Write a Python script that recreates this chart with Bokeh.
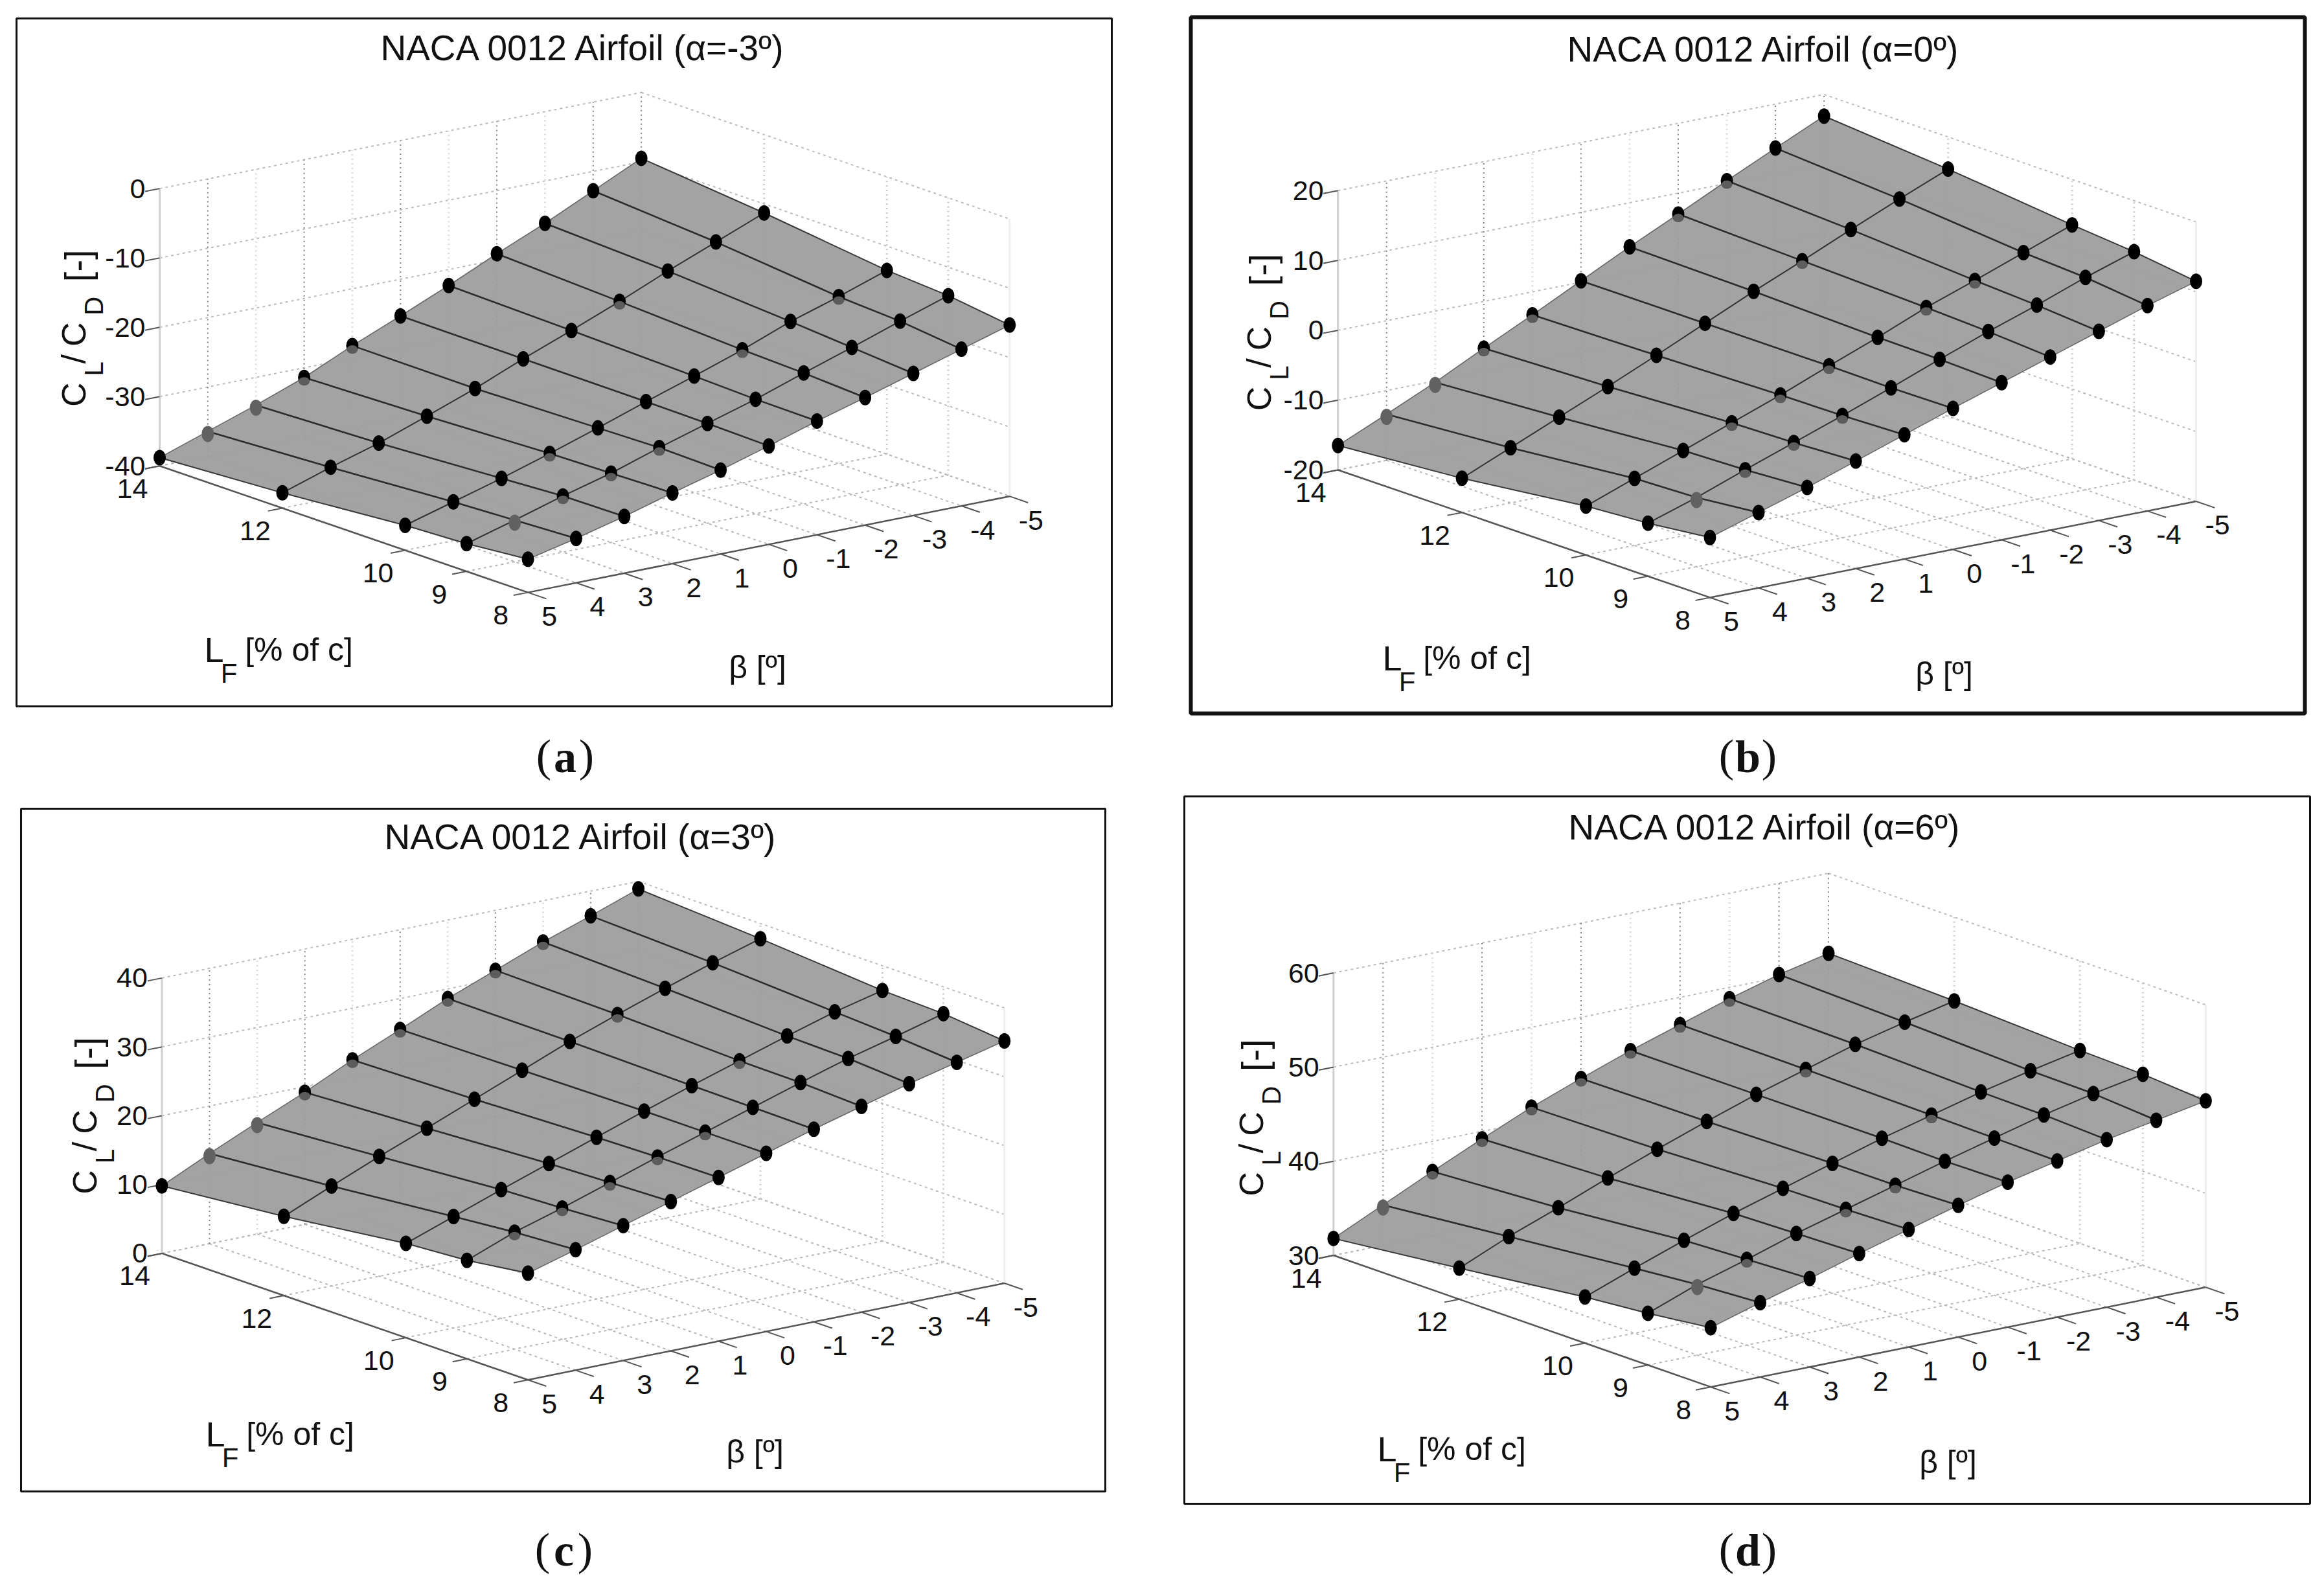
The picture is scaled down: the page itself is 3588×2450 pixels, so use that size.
from bokeh.plotting import figure
from bokeh.layouts import row, column
from bokeh.models import Range1d
from bokeh.core.properties import value
from bokeh.embed import file_html
from bokeh.resources import INLINE

LF_VALUES = [14, 12, 10, 9, 8]
BETA_VALUES = [5, 4, 3, 2, 1, 0, -1, -2, -3, -4, -5]

CLCD_A = [
    [-38.8,-36.4,-34.0,-31.4,-28.2,-25.3,-22.3,-19.1,-16.1,-12.8,-9.5],
    [-37.8,-35.5,-33.4,-30.9,-28.3,-25.4,-22.7,-19.9,-16.9,-14.1,-11.3],
    [-36.4,-34.4,-32.4,-30.2,-27.9,-25.5,-23.2,-20.8,-18.1,-15.9,-13.5],
    [-36.0,-34.0,-31.9,-30.0,-27.7,-25.6,-23.5,-21.1,-18.8,-16.4,-14.1],
    [-35.2,-33.6,-31.8,-29.8,-27.9,-25.8,-23.6,-21.6,-19.5,-17.4,-15.3],
]
CLCD_B = [
    [-16.5,-13.4,-10.2,-6.7,-3.3,0.2,3.7,7.0,10.4,13.7,16.9],
    [-15.1,-12.1,-9.1,-6.1,-3.0,0.2,3.4,6.4,9.5,12.5,15.4],
    [-13.0,-10.4,-7.8,-5.2,-2.6,0.2,2.9,5.8,8.3,10.9,13.5],
    [-12.4,-10.1,-7.5,-5.0,-2.5,0.1,2.8,5.4,7.8,10.4,12.7],
    [-11.4,-9.2,-7.0,-4.6,-2.2,0.2,2.5,4.8,7.1,9.4,11.5],
]
CLCD_C = [
    [9.8,13.1,16.2,19.2,22.5,25.5,28.6,31.3,34.0,36.4,38.9],
    [11.5,14.5,17.4,20.1,22.9,25.7,28.5,31.0,33.4,35.7,37.8],
    [13.7,16.2,18.7,21.1,23.5,25.9,28.2,30.4,32.6,34.7,36.4],
    [14.3,17.0,19.1,21.4,23.7,25.9,28.1,30.3,32.4,34.2,36.1],
    [15.5,17.5,19.6,21.7,23.8,25.9,28.0,29.9,31.8,33.5,35.2],
]
CLCD_D = [
    [31.8,34.3,36.8,39.2,41.5,43.5,45.4,47.1,48.8,50.3,51.5],
    [33.3,35.6,37.6,39.7,41.7,43.6,45.4,47.0,48.6,49.9,51.1],
    [34.9,36.9,38.8,40.6,42.2,43.8,45.4,46.8,48.2,49.4,50.5],
    [35.5,37.5,39.1,40.8,42.3,43.8,45.3,46.7,48.1,49.3,50.3],
    [36.3,37.9,39.4,41.0,42.5,44.0,45.4,46.6,47.8,48.8,49.8],
]
ZTICKS_A = [-40, -30, -20, -10, 0]
ZTICKS_B = [-20, -10, 0, 10, 20]
ZTICKS_C = [0, 10, 20, 30, 40]
ZTICKS_D = [30, 40, 50, 60]
TITLES = ["NACA 0012 Airfoil (\u03b1=-3\u00ba)", "NACA 0012 Airfoil (\u03b1=0\u00ba)",
          "NACA 0012 Airfoil (\u03b1=3\u00ba)", "NACA 0012 Airfoil (\u03b1=6\u00ba)"]
CAPTIONS = ["a", "b", "c", "d"]

SX, SY = 1.1441, 0.7813
SANS = "Liberation Sans"
SERIF = "Liberation Serif"

PANELS = [
    dict(data=CLCD_A, zt=ZTICKS_A, title=TITLES[0], cap="a", off=(0, 0), cell=(0, 1794, 0, 1225),
         frame=(25, 1716, 28, 1090), fw=3, L=(215, 920), F=(712, 1170), R=(1362, 980), k=13.7,
         tpos=(901, 73), ylx=-132, lf=(330, 1002), bl=(1169, 1029), cappos=(872, 1168),
         half={0: [3, 4], 1: [7], 2: [3, 7, 9], 3: [2, 3, 4]}, full={0: [1, 2], 3: [1]}),
    dict(data=CLCD_B, zt=ZTICKS_B, title=TITLES[1], cap="b", off=(1794, 0), cell=(1794, 3580, 0, 1225),
         frame=(1838, 3558, 26, 1101), fw=6, L=(237, 928), F=(739, 1180), R=(1395, 990), k=13.8,
         tpos=(2724, 75), ylx=-122, lf=(2149, 1015), bl=(3001, 1039), cappos=(2698, 1168),
         half={0: [3, 4, 7, 8], 1: [7], 2: [3, 4, 5, 7, 8], 3: [2, 3, 4]}, full={0: [1, 2], 3: [1]}),
    dict(data=CLCD_C, zt=ZTICKS_C, title=TITLES[2], cap="c", off=(0, 1225), cell=(0, 1794, 1225, 2442),
         frame=(32, 1706, 1248, 2302), fw=3, L=(218, 908), F=(712, 1158), R=(1355, 967), k=13.6,
         tpos=(898, 1291), ylx=-119, lf=(332, 2213), bl=(1165, 2240), cappos=(870, 2393),
         half={0: [3, 4, 5, 6, 7, 8], 1: [7], 2: [7], 3: [1, 2, 3, 4, 5]}, full={0: [1, 2]}),
    dict(data=CLCD_D, zt=ZTICKS_D, title=TITLES[3], cap="d", off=(1794, 1225), cell=(1794, 3580, 1225, 2442),
         frame=(1828, 3566, 1229, 2321), fw=3, L=(231, 912), F=(740, 1172), R=(1408, 975), k=18.6,
         tpos=(2726, 1276), ylx=-127, lf=(2141, 2236), bl=(3007, 2256), cappos=(2698, 2393),
         half={0: [2, 3, 4, 5, 6, 7, 8], 1: [7], 2: [7], 3: [2, 4, 5]}, full={0: [1], 3: [1]}),
]


def make_panel(pn):
    ox, oy = pn["off"]
    xf = ox + pn["F"][0] * SX; yf = oy + pn["F"][1] * SY
    xl = ox + pn["L"][0] * SX; yl = oy + pn["L"][1] * SY
    xr = ox + pn["R"][0] * SX; yr = oy + pn["R"][1] * SY
    k = pn["k"] * SY
    zt = pn["zt"]; zmin, zmax = zt[0], zt[-1]

    def proj(lf, b, z):
        u, v = (lf - 8) / 6.0, (5 - b) / 10.0
        return xf + (xl - xf) * u + (xr - xf) * v, yf + (yl - yf) * u + (yr - yf) * v - k * (z - zmin)

    def seg(a, b):
        pa, pb = proj(*a), proj(*b)
        return [pa[0], pb[0]], [pa[1], pb[1]]

    x0, x1, y0, y1 = pn["cell"]
    p = figure(width=x1 - x0, height=y1 - y0, x_range=Range1d(x0, x1), y_range=Range1d(y1, y0),
               output_backend="svg", toolbar_location=None, x_axis_location=None, y_axis_location=None,
               min_border=0, outline_line_color=None)
    p.grid.visible = False

    fx0, fx1, fy0, fy1 = pn["frame"]
    p.quad(left=[fx0], right=[fx1], top=[fy0], bottom=[fy1], fill_color="white",
           line_color="#111111", line_width=pn["fw"])

    def lines(segs, color, width, dash="solid", alpha=1.0):
        xs = [s[0] for s in segs]; ys = [s[1] for s in segs]
        p.multi_line(xs, ys, line_color=color, line_width=width, line_dash=dash, line_alpha=alpha)

    # floor grid
    lines([seg((14, b, zmin), (8, b, zmin)) for b in BETA_VALUES[1:]] +
          [seg((l, 5, zmin), (l, -5, zmin)) for l in LF_VALUES[:-1]], "#b8b8b8", 2, "4 5")
    # wall grids
    lines([seg((14, 5, z), (14, -5, z)) for z in zt] + [seg((14, -5, z), (8, -5, z)) for z in zt],
          "#bcbcbc", 2, "4 5")
    lines([seg((14, b, zmin), (14, b, zmax)) for b in BETA_VALUES[1:-1:2]] +
          [seg((14, -5, zmin), (14, -5, zmax))], "#808080", 2, "2 5")
    lines([seg((14, b, zmin), (14, b, zmax)) for b in BETA_VALUES[2:-1:2]], "#dddddd", 3, "2 5")
    lines([seg((l, -5, zmin), (l, -5, zmax)) for l in LF_VALUES[1:-1]], "#cccccc", 3, "2 5")
    # box
    lines([seg((14, 5, zmin), (14, 5, zmax))], "#cfcfcf", 3)
    lines([seg((8, -5, zmin), (8, -5, zmax))], "#eeeeee", 3)
    # axes and ticks
    lines([seg((14, 5, zmin), (8, 5, zmin)), seg((8, 5, zmin), (8, -5, zmin))], "#555555", 2.5)
    lines([seg((l, 5, zmin), (l, 5.3, zmin)) for l in LF_VALUES] +
          [seg((8, b, zmin), (7.7, b, zmin)) for b in BETA_VALUES] +
          [seg((14, 5, z), (14, 5.3, z)) for z in zt], "#555555", 2)

    # surface
    d = pn["data"]
    P = [[proj(l, b, d[i][j]) for j, b in enumerate(BETA_VALUES)] for i, l in enumerate(LF_VALUES)]
    qx, qy = [], []
    for i in range(len(LF_VALUES) - 1):
        for j in range(len(BETA_VALUES) - 1):
            c = [P[i][j], P[i][j + 1], P[i + 1][j + 1], P[i + 1][j]]
            qx.append([t[0] for t in c]); qy.append([t[1] for t in c])
    p.patches(qx, qy, fill_color="#9e9e9e", fill_alpha=0.95, line_color="#9e9e9e", line_width=1, line_alpha=0.6)

    # mesh lines
    lines([[[P[i][j][0] for i in range(5)], [P[i][j][1] for i in range(5)]] for j in range(1, 10)],
          "#2c2c2c", 2.6)
    lines([[[t[0] for t in P[i]], [t[1] for t in P[i]]] for i in (1, 2, 3)], "#333333", 2)
    lines([[[P[i][0][0] for i in range(5)], [P[i][0][1] for i in range(5)]],
           [[P[i][10][0] for i in range(5)], [P[i][10][1] for i in range(5)]]], "#3a3a3a", 2)
    lines([[[t[0] for t in P[4]], [t[1] for t in P[4]]], [[t[0] for t in P[0]], [t[1] for t in P[0]]]],
          "#6a6a6a", 1.6)

    # dots
    bx, by, hx, hy, gx, gy = [], [], [], [], [], []
    for i in range(5):
        for j in range(11):
            x, y = P[i][j]
            if j in pn["full"].get(i, []):
                gx.append(x); gy.append(y + 4)
            else:
                bx.append(x); by.append(y)
                if j in pn["half"].get(i, []):
                    hx.append(x); hy.append(y + 6)
    p.ellipse(bx, by, width=19, height=24, fill_color="black", line_color=None)
    p.ellipse(hx, hy, width=17, height=13, fill_color="#5c5c5c", line_color=None)
    p.ellipse(gx, gy, width=19, height=25, fill_color="#616161", line_color=None)

    def txt(x, y, s, size, font=SANS, align="center", angle=0, color="#111111", style="normal"):
        p.text([x], [y], text=[s], text_font=value(font), text_font_size=f"{size}px", text_align=align,
               text_baseline="middle", angle=angle, text_color=color, text_font_style=style)

    # tick labels
    for l in LF_VALUES:
        x, y = proj(l, 5, zmin); txt(x - 42, y + 35, str(l), 43)
    for b in BETA_VALUES:
        x, y = proj(8, b, zmin); txt(x + 33, y + 37, str(b), 43)
    for z in zt:
        x, y = proj(14, 5, z); txt(x - 22, y, str(z), 43, align="right")

    # title
    txt(pn["tpos"][0], pn["tpos"][1], pn["title"], 55)

    # z label (rotated)
    cx, cy = xl + pn["ylx"], yl
    R = 1.5708
    txt(cx, cy - 110, "C", 52, angle=R)
    txt(cx + 31, cy - 150, "L", 40, angle=R)
    txt(cx, cy - 165, "/", 52, angle=R)
    txt(cx, cy - 203, "C", 52, angle=R)
    txt(cx + 31, cy - 247, "D", 40, angle=R)
    txt(cx + 5, cy - 309, "[-]", 56, angle=R)

    # LF label
    lx, ly = pn["lf"]
    txt(lx, ly, "L", 54)
    txt(lx + 23, ly + 37, "F", 42)
    txt(lx + 131, ly, "[% of c]", 50)

    # beta label
    txt(pn["bl"][0], pn["bl"][1], "\u03b2 [\u00ba]", 50)

    # caption
    c0, c1 = pn["cappos"]
    txt(c0 - 33, c1 - 2, "(", 70, SERIF)
    txt(c0, c1, pn["cap"], 70, SERIF, style="bold")
    txt(c0 + 33, c1 - 2, ")", 70, SERIF)
    return p


figs = [make_panel(pn) for pn in PANELS]
page = column(row(figs[0], figs[1], spacing=0), row(figs[2], figs[3], spacing=0), spacing=0)
open("out.html", "w").write(file_html(page, INLINE))
